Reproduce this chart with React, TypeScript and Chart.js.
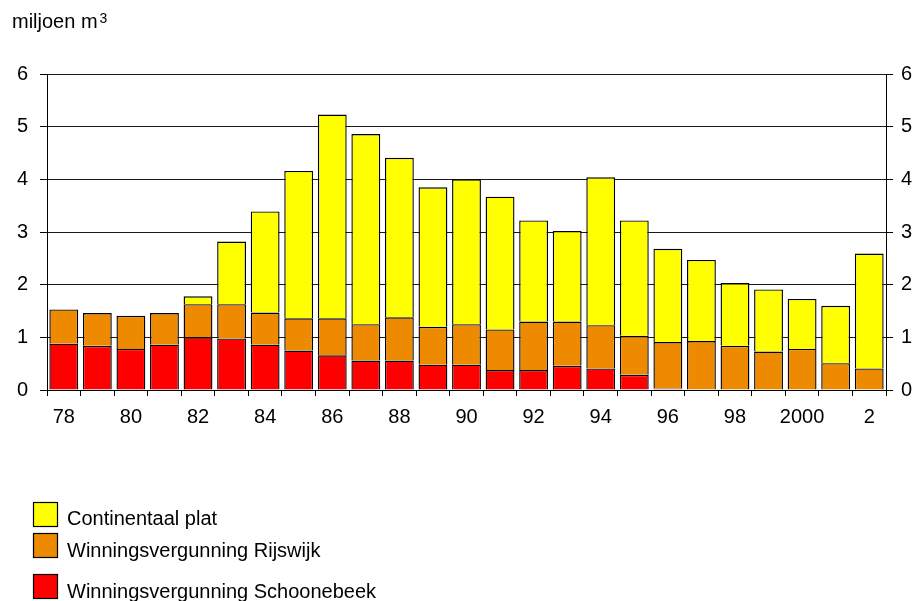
import React, { useEffect, useRef } from 'react';
import { Chart, registerables } from 'chart.js';

Chart.register(...registerables);

// Jaren (78 … 2002)
const years = [
  '78', '79', '80', '81', '82', '83', '84', '85', '86', '87', '88', '89',
  '90', '91', '92', '93', '94', '95', '96', '97', '98', '99', '2000', '1', '2',
];

// Productie per winningsgebied, miljoen m³
const schoonebeek = [
  0.88, 0.84, 0.78, 0.86, 1.0, 0.98, 0.86, 0.75, 0.66, 0.56, 0.56, 0.48,
  0.48, 0.38, 0.38, 0.46, 0.41, 0.29, 0.03, 0, 0, 0, 0, 0, 0,
];
const rijswijk = [
  0.65, 0.62, 0.63, 0.6, 0.63, 0.65, 0.61, 0.61, 0.7, 0.69, 0.82, 0.72,
  0.77, 0.77, 0.92, 0.84, 0.82, 0.74, 0.88, 0.93, 0.84, 0.73, 0.78, 0.51, 0.41,
];
const continentaalPlat = [
  0, 0, 0, 0, 0.15, 1.19, 1.92, 2.8, 3.87, 3.61, 3.03, 2.65,
  2.75, 2.52, 1.92, 1.72, 2.81, 2.19, 1.77, 1.54, 1.19, 1.18, 0.95, 1.09, 2.18,
];

const seriesNames = [
  'Winningsvergunning Schoonebeek',
  'Winningsvergunning Rijswijk',
  'Continentaal plat',
];
const yTickValues = [0, 1, 2, 3, 4, 5, 6];

const RED = '#FF0000';
const ORANGE = '#EE8A00';
const YELLOW = '#FFFF00';
const FONT_FAMILY = '"Liberation Sans", Arial, Helvetica, sans-serif';

// Unit caption top-left and a vertical legend below the plot
const annotationsPlugin = {
  id: 'annotations',
  afterDraw(chart: any) {
    const ctx = chart.ctx as CanvasRenderingContext2D;
    ctx.save();
    ctx.fillStyle = '#000';
    ctx.textAlign = 'left';
    ctx.textBaseline = 'alphabetic';

    // caption "miljoen m³"
    ctx.font = `20px ${FONT_FAMILY}`;
    const base = 'miljoen m';
    ctx.fillText(base, 12, 28);
    const w = ctx.measureText(base).width;
    ctx.font = `14px ${FONT_FAMILY}`;
    ctx.fillText('3', 12 + w + 2, 23);

    // legend, top series first
    const rows = [
      { boxTop: 502, baseline: 525 },
      { boxTop: 533, baseline: 557 },
      { boxTop: 574, baseline: 598 },
    ];
    const ds = chart.data.datasets.slice().reverse();
    ctx.font = `20px ${FONT_FAMILY}`;
    ds.forEach((d: any, i: number) => {
      const r = rows[i];
      ctx.fillStyle = d.backgroundColor;
      ctx.fillRect(33, r.boxTop, 25, 25);
      ctx.strokeStyle = '#000';
      ctx.lineWidth = 1.2;
      ctx.strokeRect(33.5, r.boxTop + 0.5, 24, 24);
      ctx.fillStyle = '#000';
      ctx.fillText(d.label, 67, r.baseline);
    });
    ctx.restore();
  },
};

const tickFont = { family: FONT_FAMILY, size: 20 };

export default function App() {
  const canvasRef = useRef<HTMLCanvasElement | null>(null);

  useEffect(() => {
    if (!canvasRef.current) return;
    const barStyle = {
      borderColor: '#000',
      borderWidth: 1.4,
      barPercentage: 0.86,
      categoryPercentage: 1.0,
    };
    const chart = new Chart(canvasRef.current, {
      type: 'bar',
      data: {
        labels: years,
        datasets: [
          { label: seriesNames[0], data: schoonebeek, backgroundColor: RED, ...barStyle },
          { label: seriesNames[1], data: rijswijk, backgroundColor: ORANGE, ...barStyle },
          { label: seriesNames[2], data: continentaalPlat, backgroundColor: YELLOW, ...barStyle },
        ],
      },
      options: {
        animation: false,
        responsive: true,
        maintainAspectRatio: false,
        events: [],
        layout: { padding: { top: 74, bottom: 171, left: 0, right: 0 } },
        plugins: {
          legend: { display: false },
          tooltip: { enabled: false },
          title: { display: false },
        },
        scales: {
          x: {
            stacked: true,
            offset: true,
            grid: {
              offset: true,
              drawOnChartArea: false,
              drawTicks: true,
              tickLength: 6,
              tickColor: '#000',
            },
            border: { display: true, color: '#000', width: 1 },
            ticks: {
              autoSkip: false,
              maxRotation: 0,
              minRotation: 0,
              color: '#000',
              font: tickFont,
              padding: 9,
              callback: (_v: any, i: number) => (i % 2 === 0 ? years[i] : ''),
            },
            afterFit: (s: any) => {
              s.height = 40;
            },
          },
          y: {
            stacked: true,
            position: 'left',
            min: 0,
            max: 6,
            ticks: {
              stepSize: 0.5,
              color: '#000',
              font: tickFont,
              padding: 12,
              callback: (v: any) => (yTickValues.includes(v) ? String(v) : ''),
            },
            grid: {
              color: (c: any) =>
                c.tick && yTickValues.includes(c.tick.value) ? '#1a1a1a' : 'rgba(0,0,0,0)',
              tickColor: '#000',
              tickLength: 7,
              lineWidth: 1,
            },
            border: { display: true, color: '#000', width: 1 },
            afterFit: (s: any) => {
              s.width = 47;
            },
          },
          y2: {
            position: 'right',
            min: 0,
            max: 6,
            ticks: {
              stepSize: 0.5,
              color: '#000',
              font: tickFont,
              padding: 8,
              callback: (v: any) => (yTickValues.includes(v) ? String(v) : ''),
            },
            grid: {
              drawOnChartArea: false,
              tickColor: '#000',
              tickLength: 7,
            },
            border: { display: true, color: '#000', width: 1 },
            afterFit: (s: any) => {
              s.width = 30;
            },
          },
        },
      } as any,
      plugins: [annotationsPlugin],
    });
    return () => chart.destroy();
  }, []);

  return (
    <div style={{ position: 'absolute', left: 0, top: 0, width: 916, height: 601 }}>
      <canvas ref={canvasRef} />
    </div>
  );
}
